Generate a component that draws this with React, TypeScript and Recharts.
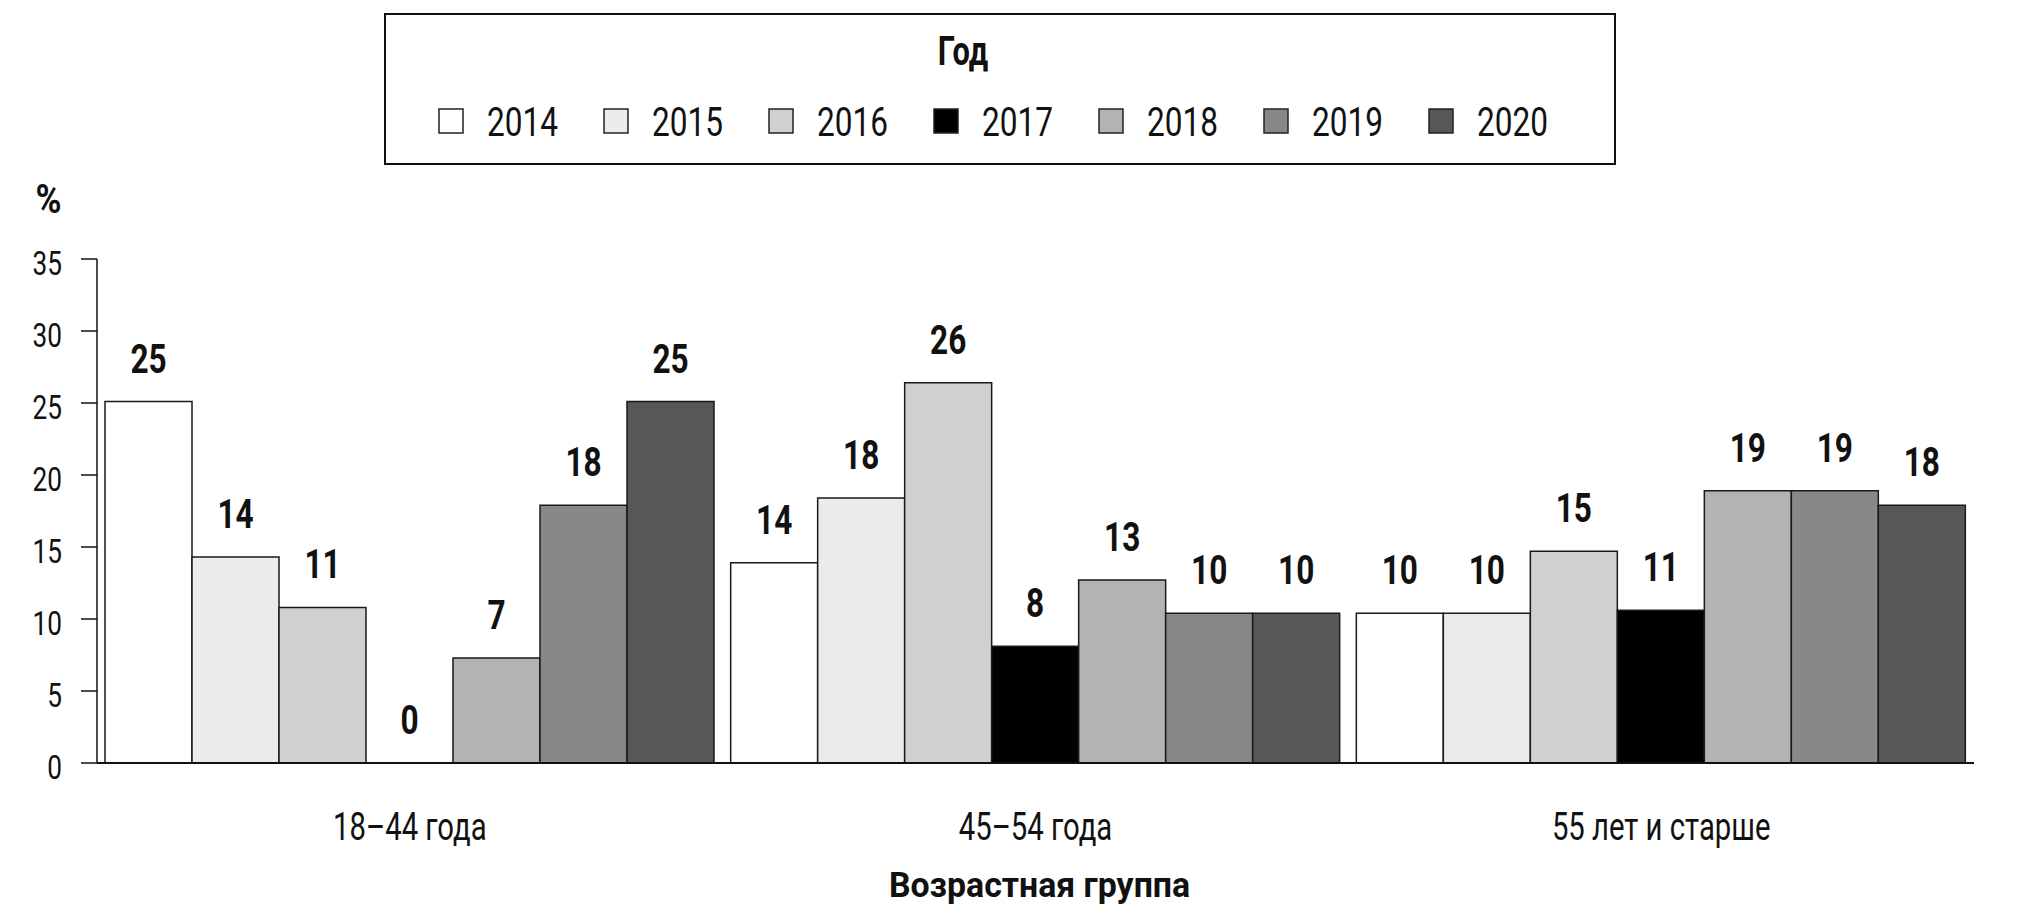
import React from "react";
import { BarChart, Bar, XAxis, YAxis, LabelList, Label } from "recharts";

// the source uses a condensed DIN-like face; squeeze Roboto horizontally instead
const FONT = "Roboto, 'Noto Sans', sans-serif";
const SQUEEZE = 0.77;
const INK = "#111";

const groups = ["18–44 года", "45–54 года", "55 лет и старше"];
const years = ["2014", "2015", "2016", "2017", "2018", "2019", "2020"];
const fills = ["#ffffff", "#ebebeb", "#d0d0d0", "#000000", "#b3b3b3", "#888888", "#575757"];

const v2014 = [25.1, 13.9, 10.4];
const v2015 = [14.3, 18.4, 10.4];
const v2016 = [10.8, 26.4, 14.7];
const v2017 = [0, 8.1, 10.6];
const v2018 = [7.3, 12.7, 18.9];
const v2019 = [17.9, 10.4, 18.9];
const v2020 = [25.1, 10.4, 17.9];

const yTicks = [0, 5, 10, 15, 20, 25, 30, 35];
const groupBounds = [0, 1, 2, 3];

const series = [v2014, v2015, v2016, v2017, v2018, v2019, v2020];

const data = groups.map((g, i) => {
  const row: Record<string, string | number> = { group: g };
  years.forEach((y, k) => {
    row[y] = series[k][i];
  });
  return row;
});

type NarrowProps = {
  x: number;
  y: number;
  size: number;
  bold?: boolean;
  squeeze?: number;
  anchor?: "start" | "middle" | "end";
  children: React.ReactNode;
};

function Narrow({ x, y, size, bold, squeeze = SQUEEZE, anchor = "middle", children }: NarrowProps) {
  return (
    <text
      transform={`translate(${x},${y}) scale(${squeeze},1)`}
      x={0}
      y={0}
      textAnchor={anchor}
      fontFamily={FONT}
      fontSize={size}
      fontWeight={bold ? 700 : 400}
      fill={INK}
    >
      {children}
    </text>
  );
}

const YTick = (props: any) => (
  <Narrow x={props.x} y={props.y + 16} size={34} anchor="end">
    {props.payload.value}
  </Narrow>
);

const XTick = (props: any) => (
  <Narrow x={props.x} y={props.y + 77} size={38}>
    {props.payload.value}
  </Narrow>
);

const BarValue = (props: any) => {
  const { x, y, width, value } = props;
  return (
    <Narrow x={x + width / 2} y={y - 29} size={41} bold>
      {Math.round(value)}
    </Narrow>
  );
};

const AxisTitle = (props: any) => {
  const vb = props.viewBox;
  return (
    <Narrow x={vb.x + vb.width / 2 + 4} y={vb.y + vb.height - 21} size={36} squeeze={0.94} bold>
      Возрастная группа
    </Narrow>
  );
};

const UnitTitle = (props: any) => {
  const vb = props.viewBox;
  return (
    <Narrow x={vb.x + vb.width / 2} y={vb.y - 46} size={40} squeeze={0.88} bold>
      %
    </Narrow>
  );
};

function YearLegend() {
  return (
    <svg
      width={1232}
      height={152}
      style={{ position: "absolute", left: 384, top: 13 }}
    >
      <rect x={1} y={1} width={1230} height={150} fill="#fff" stroke={INK} strokeWidth={2} />
      <Narrow x={579} y={52} size={40} bold>
        Год
      </Narrow>
      {years.map((y, i) => (
        <g key={y}>
          <rect
            x={55 + i * 165}
            y={96}
            width={24}
            height={24}
            fill={fills[i]}
            stroke="#222"
            strokeWidth={1.5}
          />
          <Narrow x={103 + i * 165} y={123} size={41} anchor="start">
            {y}
          </Narrow>
        </g>
      ))}
    </svg>
  );
}

export default function App() {
  return (
    <div
      style={{
        position: "absolute",
        left: 0,
        top: 0,
        width: 2020,
        height: 918,
        background: "#fff",
      }}
    >
      <BarChart
        width={2020}
        height={918}
        data={data}
        margin={{ top: 259, right: 46, left: 0, bottom: 0 }}
        barCategoryGap={8}
        barGap={0}
      >
        <XAxis
          xAxisId="bounds"
          type="number"
          domain={[0, 3]}
          ticks={groupBounds}
          interval={0}
          height={0}
          axisLine={false}
          tick={false}
          tickSize={15}
          tickLine={{ stroke: INK, strokeWidth: 1.5 }}
          allowDataOverflow
        />
        <XAxis
          dataKey="group"
          height={155}
          tickLine={false}
          tickSize={0}
          tickMargin={0}
          axisLine={{ stroke: INK, strokeWidth: 2 }}
          tick={<XTick />}
        >
          <Label content={<AxisTitle />} position="insideBottom" />
        </XAxis>
        <YAxis
          width={97}
          domain={[0, 35]}
          ticks={yTicks}
          interval={0}
          tickSize={16}
          tickMargin={19}
          axisLine={{ stroke: INK, strokeWidth: 1.5 }}
          tickLine={{ stroke: INK, strokeWidth: 1.5 }}
          tick={<YTick />}
        >
          <Label content={<UnitTitle />} position="top" />
        </YAxis>
        {years.map((y, i) => (
          <Bar
            key={y}
            dataKey={y}
            fill={fills[i]}
            stroke="#1a1a1a"
            strokeWidth={1.5}
            minPointSize={(value: number) => (value === 0 ? 0.01 : 0)}
            isAnimationActive={false}
          >
            <LabelList dataKey={y} content={<BarValue />} />
          </Bar>
        ))}
      </BarChart>
      <YearLegend />
    </div>
  );
}
